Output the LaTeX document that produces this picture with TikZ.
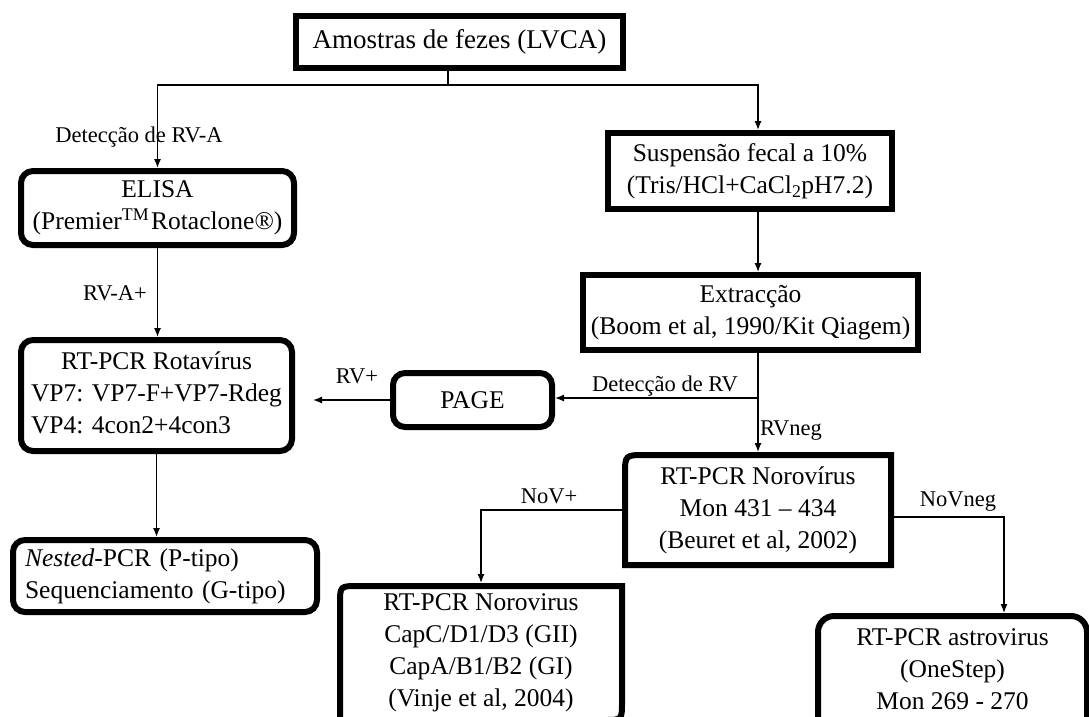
\documentclass[tikz,border=0pt]{standalone}
\usepackage{fontspec}
\setmainfont{Liberation Serif}
\usetikzlibrary{arrows.meta}
\newcommand\bxfont{\fontsize{25.5}{32}\selectfont}
\newcommand\lbfont{\fontsize{22.5}{26}\selectfont}
\begin{document}
\begin{tikzpicture}[x=1pt,y=-1pt,
  boxa/.style={draw, line width=6pt, align=center, font=\bxfont, inner sep=0pt},
  rbox/.style={boxa, rounded corners=12pt},
  txt/.style={align=center, font=\bxfont, inner sep=0pt, outer sep=3pt},
  bline/.style={line width=6pt},
  lbl/.style={font=\lbfont, inner sep=0pt},
  ln/.style={line width=1.3pt},
  arr/.style={line width=1.3pt, -{Latex[length=9pt,width=7pt]}}]
\useasboundingbox (0,0) rectangle (1089,716);
\fill[white] (0,0) rectangle (1089,716);
\clip (0,0) rectangle (1089,716);

% boxes
\node[boxa, minimum width=327pt, minimum height=52pt, font=\fontsize{27}{32}\selectfont] (b1) at (459.5,42) {Amostras de fezes (LVCA)};
\node[rbox, minimum width=273pt, minimum height=74pt] (elisa) at (157.5,208) {ELISA\\(Premier\textsuperscript{TM}\kern2pt Rotaclone®)};
\node[boxa, minimum width=284pt, minimum height=76pt] (susp) at (750,171) {Suspensão fecal a 10\%\\(Tris/HCl+CaCl\textsubscript{2}pH7.2)};
\node[boxa, minimum width=335pt, minimum height=75pt] (extr) at (750.5,312.5) {Extracção\\(Boom et al, 1990/Kit Qiagem)};
\node[rbox, minimum width=159pt, minimum height=54pt] (page) at (472.5,400) {PAGE};
\node[rbox, minimum width=271pt, minimum height=111pt] (rota) at (156.5,395.5) {\begin{tabular}{@{}l@{}}\multicolumn{1}{@{}c@{}}{RT-PCR Rotavírus}\\VP7: VP7-F+VP7-Rdeg\\VP4: 4con2+4con3\end{tabular}};
\node[rbox, minimum width=304pt, minimum height=72pt, text width=280pt, align=left, inner xsep=12pt] (nest) at (165,576) {\textit{Nested}-PCR (P-tipo)\\Sequenciamento (G-tipo)};

\node[txt, minimum width=266pt, minimum height=110pt] (noro) at (758,510) {RT-PCR Norovírus\\Mon 431 – 434\\(Beuret et al, 2002)};
\draw[bline] (625,565) -- (625,475) .. controls (625,455) .. (645,455) -- (891,455) -- (891,565) -- cycle;

\node[txt, minimum width=282pt, minimum height=134pt] (vinje) at (481,653) {RT-PCR Norovirus\\CapC/D1/D3 (GII)\\CapA/B1/B2 (GI)\\(Vinje et al, 2004)};
\draw[bline] (340,760) -- (340,604) .. controls (340,586) .. (358,586) -- (622,586) -- (622,702) .. controls (622,720) .. (604,720) -- (340,720);

\node[txt, minimum width=269pt, minimum height=106pt] (astro) at (952.5,669) {RT-PCR astrovirus\\(OneStep)\\Mon 269 - 270};
\draw[bline, rounded corners=16pt] (818,760) -- (818,616) -- (1087,616) -- (1087,760);

% connectors
\coordinate (j1) at (448,85);
\coordinate (sp) at (758,0);
\coordinate (j2) at (758,398);
\draw[ln] (b1.south -| j1) -- (j1);
\draw[arr] (j1) -| (elisa.north);
\draw[arr] (j1) -| (susp.north -| sp);
\draw[arr] (elisa.south) -- (elisa.south |- rota.north);
\draw[arr] (rota.south) -- (rota.south |- nest.north);
\draw[arr] (susp.south -| sp) -- (extr.north -| sp);
\draw[arr] (extr.south -| sp) -- (noro.north);
\draw[arr] (j2) -- (page.east |- j2);
\draw[arr, shorten >=18pt] (page.west) -- (page.west -| rota.east);
\draw[arr] (noro.west) -| (vinje.north);
\draw[arr] ([yshift=-7pt]noro.east) -| ([xshift=51.5pt]astro.north);

% labels
\node[lbl] (l1) at (139,137) {Detecção de RV-A};
\node[lbl] (l2) at (115,293) {RV-A+};
\node[lbl] (l3) at (357,376) {RV+};
\node[lbl] (l4) at (665,386) {Detecção de RV};
\node[lbl] (l5) at (791,431) {RVneg};
\node[lbl] (l6) at (549,496) {NoV+};
\node[lbl] (l7) at (958,502) {NoVneg};
\end{tikzpicture}
\end{document}
